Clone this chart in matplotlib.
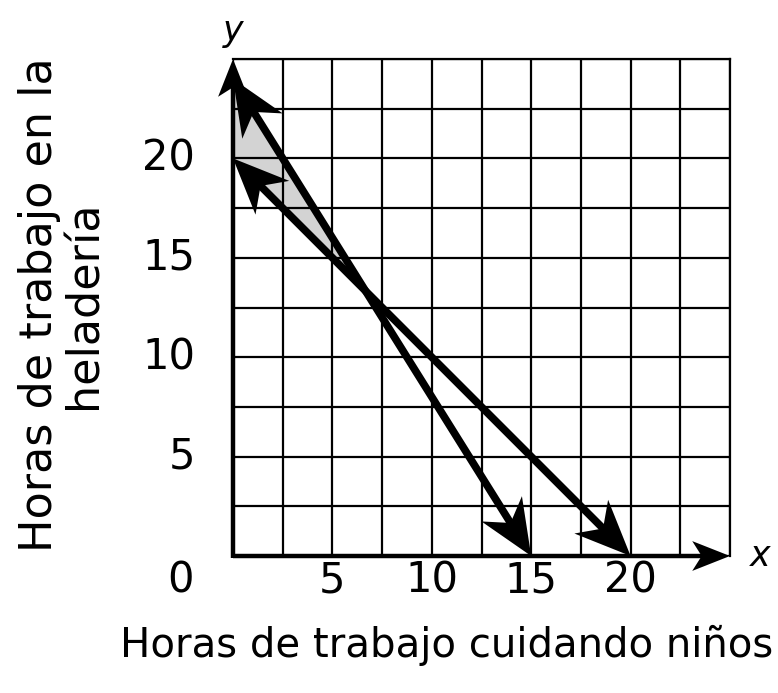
import numpy as np
import matplotlib.pyplot as plt

# two lines: (x, y) endpoints
line_a_x = [0, 15]
line_a_y = [24, 0]
line_b_x = [0, 20]
line_b_y = [20, 0]

x_tick_vals = [5, 10, 15, 20]
y_tick_vals = [5, 10, 15, 20]
x_title = "Horas de trabajo cuidando niños"
y_title = "Horas de trabajo en la\nheladería"

W, H = 778, 693
FS = 30

fig = plt.figure(figsize=(W / 100, H / 100), dpi=100)
ax = fig.add_axes([233 / W, 1 - 556 / H, 497 / W, 497 / H])
ax.set_xlim(0, 25)
ax.set_ylim(0, 25)
ax.set_aspect('equal')

# grid every 2.5
ax.set_xticks(np.arange(0, 25.1, 2.5))
ax.set_yticks(np.arange(0, 25.1, 2.5))
ax.tick_params(length=0, labelbottom=False, labelleft=False)
ax.grid(True, color='black', linewidth=1.6)
for s in ['top', 'right']:
    ax.spines[s].set_linewidth(1.6)
for s in ['left', 'bottom']:
    ax.spines[s].set_visible(False)


def head(tip, tail, length, half_w, notch=0.7):
    # notched arrowhead at tip, pointing away from tail; returns where the shaft should end
    tip = np.array(tip, float)
    tail = np.array(tail, float)
    d = (tip - tail) / np.hypot(*(tip - tail))
    n = np.array([-d[1], d[0]])
    back = tip - d * length
    pts = [tip, back + n * half_w, tip - d * length * notch, back - n * half_w]
    xs, ys = zip(*pts)
    ax.fill(xs, ys, color='black', lw=0, clip_on=False, zorder=6)
    return tip - d * length * notch + d * 0.1


# shaded triangle between the lines left of their intersection
ma = (line_a_y[1] - line_a_y[0]) / (line_a_x[1] - line_a_x[0])
mb = (line_b_y[1] - line_b_y[0]) / (line_b_x[1] - line_b_x[0])
xi = (line_b_y[0] - line_a_y[0]) / (ma - mb)
yi = line_a_y[0] + ma * xi
ax.fill([0, 0, xi], [line_a_y[0], line_b_y[0], yi], color='#d3d3d3', zorder=1)

# axes with arrows
ex = head((25, 0), (0, 0), 1.9, 0.75, notch=0.75)
ax.plot([0, ex[0]], [0, 0], color='black', lw=3.2, clip_on=False, zorder=4, solid_capstyle='butt')
ey = head((0, 25), (0, 0), 1.9, 0.75, notch=0.75)
ax.plot([0, 0], [-0.08, ey[1]], color='black', lw=3.2, clip_on=False, zorder=4, solid_capstyle='butt')

# the two lines, arrows at both ends
for lx, ly in [(line_a_x, line_a_y), (line_b_x, line_b_y)]:
    p0 = (lx[0], ly[0])
    p1 = (lx[1], ly[1])
    s0 = head(p0, p1, 2.8, 1.2)
    s1 = head(p1, p0, 2.8, 1.2)
    ax.plot([s0[0], s1[0]], [s0[1], s1[1]], color='black', lw=5.5, clip_on=False,
            zorder=5, solid_capstyle='butt')

# tick labels
for v in x_tick_vals:
    ax.text(v, -1.25, str(v), ha='center', va='center', fontsize=FS, clip_on=False)
ax.text(-2.65, -1.25, "0", ha='center', va='center', fontsize=FS, clip_on=False)
for v in y_tick_vals:
    ax.text(-1.9, v, str(v), ha='right', va='center', fontsize=FS, clip_on=False)

ax.text(26.5, 0, "x", ha='center', va='center', fontsize=25, style='italic', clip_on=False)
ax.text(0, 26.4, "y", ha='center', va='center', fontsize=25, style='italic', clip_on=False)

fig.text(447 / W, 1 - 645 / H, x_title, ha='center', va='center', fontsize=29)
fig.text(62 / W, 1 - 305 / H, y_title, ha='center', va='center', rotation=90,
         multialignment='center', fontsize=32, linespacing=1.05)

fig.savefig('out.png', dpi=100)
